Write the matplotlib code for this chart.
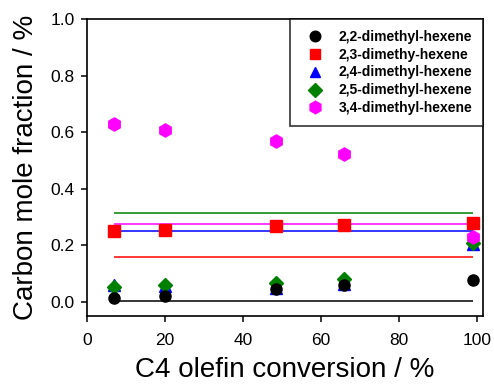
import matplotlib
matplotlib.use('Agg')
import matplotlib.pyplot as plt

plt.rcParams['font.family'] = ['Liberation Sans', 'DejaVu Sans']

conversion = [7, 20, 48.5, 66, 99]
dm22 = [0.015, 0.021, 0.045, 0.059, 0.077]
dm23 = [0.251, 0.256, 0.267, 0.271, 0.278]
dm24 = [0.060, 0.057, 0.050, 0.064, 0.205]
dm25 = [0.051, 0.059, 0.068, 0.082, 0.210]
dm34 = [0.629, 0.610, 0.569, 0.522, 0.231]

# equilibrium-type reference lines
line_x = [7, 99]
line_22 = 0.003
line_23 = 0.160
line_24 = 0.250
line_25 = 0.313
line_34 = 0.274

labels = ['2,2-dimethyl-hexene', '2,3-dimethy-hexene', '2,4-dimethyl-hexene',
          '2,5-dimethyl-hexene', '3,4-dimethyl-hexene']

fig = plt.figure(figsize=(4.94, 3.9), dpi=100)
ax = fig.add_axes([0.1761, 0.1897, 0.8016, 0.7608])

ax.hlines(line_22, line_x[0], line_x[1], color='black', lw=1.1, zorder=1)
ax.hlines(line_23, line_x[0], line_x[1], color='red', lw=1.1, zorder=1)
ax.hlines(line_24, line_x[0], line_x[1], color='blue', lw=1.1, zorder=1)
ax.hlines(line_25, line_x[0], line_x[1], color='green', lw=1.1, zorder=1)
ax.hlines(line_34, line_x[0], line_x[1], color='magenta', lw=1.1, zorder=1)

h24, = ax.plot(conversion, dm24, '^', color='blue', ms=8, ls='none', zorder=3)
h25, = ax.plot(conversion, dm25, 'D', color='green', ms=7, ls='none', zorder=4)
h22, = ax.plot(conversion, dm22, 'o', color='black', ms=8, ls='none', zorder=5)
h23, = ax.plot(conversion, dm23, 's', color='red', ms=8, ls='none', zorder=6)
h34, = ax.plot(conversion, dm34, 'h', color='magenta', ms=9.5, ls='none', zorder=7)

leg = ax.legend([h22, h23, h24, h25, h34], labels, loc='upper right',
                bbox_to_anchor=(1, 1), borderaxespad=0, fancybox=False,
                edgecolor='black', prop={'weight': 'bold', 'size': 10},
                handletextpad=0.73, labelspacing=0.28, borderpad=0.75,
                handlelength=2.0, markerscale=0.95)
leg.get_frame().set_linewidth(1.2)
leg.set_zorder(10)

ax.set_xlim(0, 101.5)
ax.set_ylim(-0.05, 1.0)
ax.set_xticks([0, 20, 40, 60, 80, 100])
ax.set_yticks([0.0, 0.2, 0.4, 0.6, 0.8, 1.0])
ax.set_yticklabels(['0.0', '0.2', '0.4', '0.6', '0.8', '1.0'])
ax.tick_params(direction='out', length=4, width=1.1, labelsize=12.5)
ax.tick_params(axis='x', pad=8)
ax.tick_params(axis='y', pad=5)
for s in ax.spines.values():
    s.set_linewidth(1.2)

ax.set_xlabel('C4 olefin conversion / %', fontsize=20, labelpad=7)
ax.set_ylabel('Carbon mole fraction / %', fontsize=20, labelpad=8)

fig.savefig('out.png', dpi=100)
